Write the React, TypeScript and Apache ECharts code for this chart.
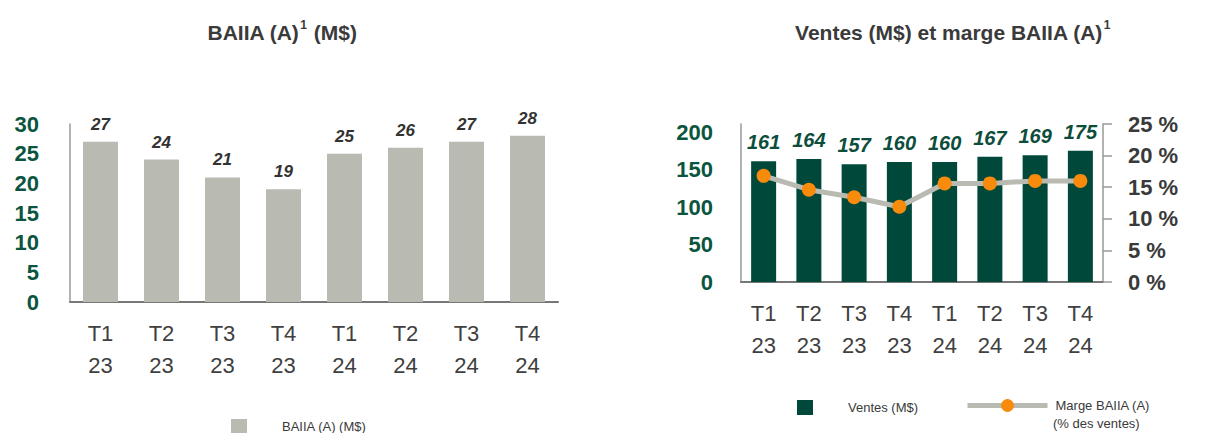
import React, { useEffect, useRef } from "react";
import * as echarts from "echarts";

const categories = ["T1\n23", "T2\n23", "T3\n23", "T4\n23", "T1\n24", "T2\n24", "T3\n24", "T4\n24"];
const baiiaValues = [27, 24, 21, 19, 25, 26, 27, 28];
const ventesValues = [161, 164, 157, 160, 160, 167, 169, 175];
const margeValues = [16.8, 14.6, 13.4, 11.9, 15.6, 15.6, 16.0, 16.0];
const leftTicks = [0, 5, 10, 15, 20, 25, 30];

const FONT = "'Liberation Sans Narrow', 'Arial Narrow', 'Liberation Sans', Arial, sans-serif";
const GREEN_TXT = "#0b5540";
const DARK_GREEN = "#00483a";
const GRAY_BAR = "#b9bab1";
const ORANGE = "#f88a0c";
const TXT = "#3a3a3a";
const MARGE_NAME = "Marge BAIIA (A) (% des ventes)";

export default function App() {
  const ref = useRef<HTMLDivElement>(null);
  useEffect(() => {
    if (!ref.current) return;
    const chart = echarts.init(ref.current, undefined, { renderer: "svg" });
    const xLabel = { fontFamily: FONT, fontSize: 22, color: "#404040", lineHeight: 32, margin: 15 };
    const titleRich = {
      a: { fontFamily: FONT, fontSize: 21, fontWeight: "bold", color: TXT, lineHeight: 26 },
      s: { fontFamily: FONT, fontSize: 12, fontWeight: "bold", color: TXT, verticalAlign: "top", lineHeight: 26, padding: [0, 1, 12, 1] },
    };
    chart.setOption({
      animation: false,
      textStyle: { fontFamily: FONT },
      title: [
        {
          text: "{a|BAIIA (A)}{s|1}{a| (M$)}",
          left: 277,
          top: 14,
          textAlign: "center",
          textStyle: { rich: titleRich },
        },
        {
          text: "{a|Ventes (M$) et marge BAIIA (A)}{s|1}",
          left: 948,
          top: 14,
          textAlign: "center",
          textStyle: { rich: titleRich },
        },
      ],
      legend: [
        {
          data: [{ name: "BAIIA (A) (M$)", icon: "rect" }],
          left: 226,
          top: 414,
          itemWidth: 16,
          itemHeight: 14,
          textStyle: { fontFamily: FONT, fontSize: 13, color: TXT, padding: [0, 0, 0, 30] },
        },
        {
          data: [{ name: "Ventes (M$)", icon: "rect" }],
          left: 792,
          top: 395,
          itemWidth: 16,
          itemHeight: 15,
          textStyle: { fontFamily: FONT, fontSize: 13, color: TXT, padding: [0, 0, 0, 30] },
        },
        {
          data: [MARGE_NAME],
          left: 960,
          top: 394,
          itemWidth: 80,
          itemHeight: 16,
          lineStyle: { color: GRAY_BAR, width: 5 },
          formatter: () => "Marge BAIIA (A)",
          textStyle: { fontFamily: FONT, fontSize: 13, color: TXT, padding: [0, 0, 0, 3] },
        },
      ],
      graphic: [
        {
          type: "text",
          left: 1053,
          top: 417,
          style: { text: "(% des ventes)", fontFamily: FONT, fontSize: 13, fill: TXT },
        },
      ],
      grid: [
        { left: 70, top: 124, width: 488, height: 178 },
        { left: 741, top: 124, width: 362, height: 158 },
      ],
      xAxis: [
        {
          type: "category",
          gridIndex: 0,
          data: categories,
          axisLine: { lineStyle: { color: "#777", width: 2 } },
          axisTick: { show: false },
          axisLabel: xLabel,
        },
        {
          type: "category",
          gridIndex: 1,
          data: categories,
          axisLine: { lineStyle: { color: "#777", width: 2 } },
          axisTick: { show: false },
          axisLabel: xLabel,
        },
      ],
      yAxis: [
        {
          type: "value",
          gridIndex: 0,
          min: leftTicks[0],
          max: leftTicks[leftTicks.length - 1],
          interval: 5,
          splitLine: { show: false },
          axisLine: { show: true, lineStyle: { color: "#999", width: 1.5 } },
          axisTick: { show: false },
          axisLabel: { fontFamily: FONT, fontSize: 22, fontWeight: "bold", color: GREEN_TXT, margin: 31 },
        },
        {
          type: "value",
          gridIndex: 1,
          min: 0,
          max: 210.67,
          interval: 50,
          splitLine: { show: false },
          axisLine: { show: true, lineStyle: { color: "#999", width: 1.5 } },
          axisTick: { show: false },
          axisLabel: { fontFamily: FONT, fontSize: 22, fontWeight: "bold", color: GREEN_TXT, margin: 28, showMaxLabel: false },
        },
        {
          type: "value",
          gridIndex: 1,
          position: "right",
          min: 0,
          max: 25,
          interval: 5,
          splitLine: { show: false },
          axisLine: { show: true, lineStyle: { color: "#999", width: 1.5 } },
          axisTick: { show: true, length: 9, lineStyle: { color: "#999", width: 1.5 } },
          axisLabel: { fontFamily: FONT, fontSize: 22, fontWeight: "bold", color: TXT, margin: 25, formatter: "{value} %" },
        },
      ],
      series: [
        {
          name: "BAIIA (A) (M$)",
          type: "bar",
          xAxisIndex: 0,
          yAxisIndex: 0,
          data: baiiaValues,
          barWidth: 35,
          itemStyle: { color: GRAY_BAR },
          label: {
            show: true,
            position: "top",
            distance: 9,
            fontFamily: FONT,
            fontSize: 17,
            fontStyle: "italic",
            fontWeight: "bold",
            color: "#333",
          },
        },
        {
          name: "Ventes (M$)",
          type: "bar",
          xAxisIndex: 1,
          yAxisIndex: 1,
          data: ventesValues,
          barWidth: 25,
          itemStyle: { color: DARK_GREEN },
          label: {
            show: true,
            position: "top",
            distance: 9,
            fontFamily: FONT,
            fontSize: 20,
            fontStyle: "italic",
            fontWeight: "bold",
            color: "#0d4d3b",
          },
        },
        {
          name: MARGE_NAME,
          type: "line",
          xAxisIndex: 1,
          yAxisIndex: 2,
          data: margeValues,
          symbol: "circle",
          symbolSize: 14,
          z: 5,
          lineStyle: { color: GRAY_BAR, width: 5 },
          itemStyle: { color: ORANGE },
        },
      ],
    });
    return () => chart.dispose();
  }, []);
  return (
    <div
      ref={ref}
      style={{ position: "fixed", left: 0, top: 0, width: 1226, height: 433, background: "#fff" }}
    />
  );
}
